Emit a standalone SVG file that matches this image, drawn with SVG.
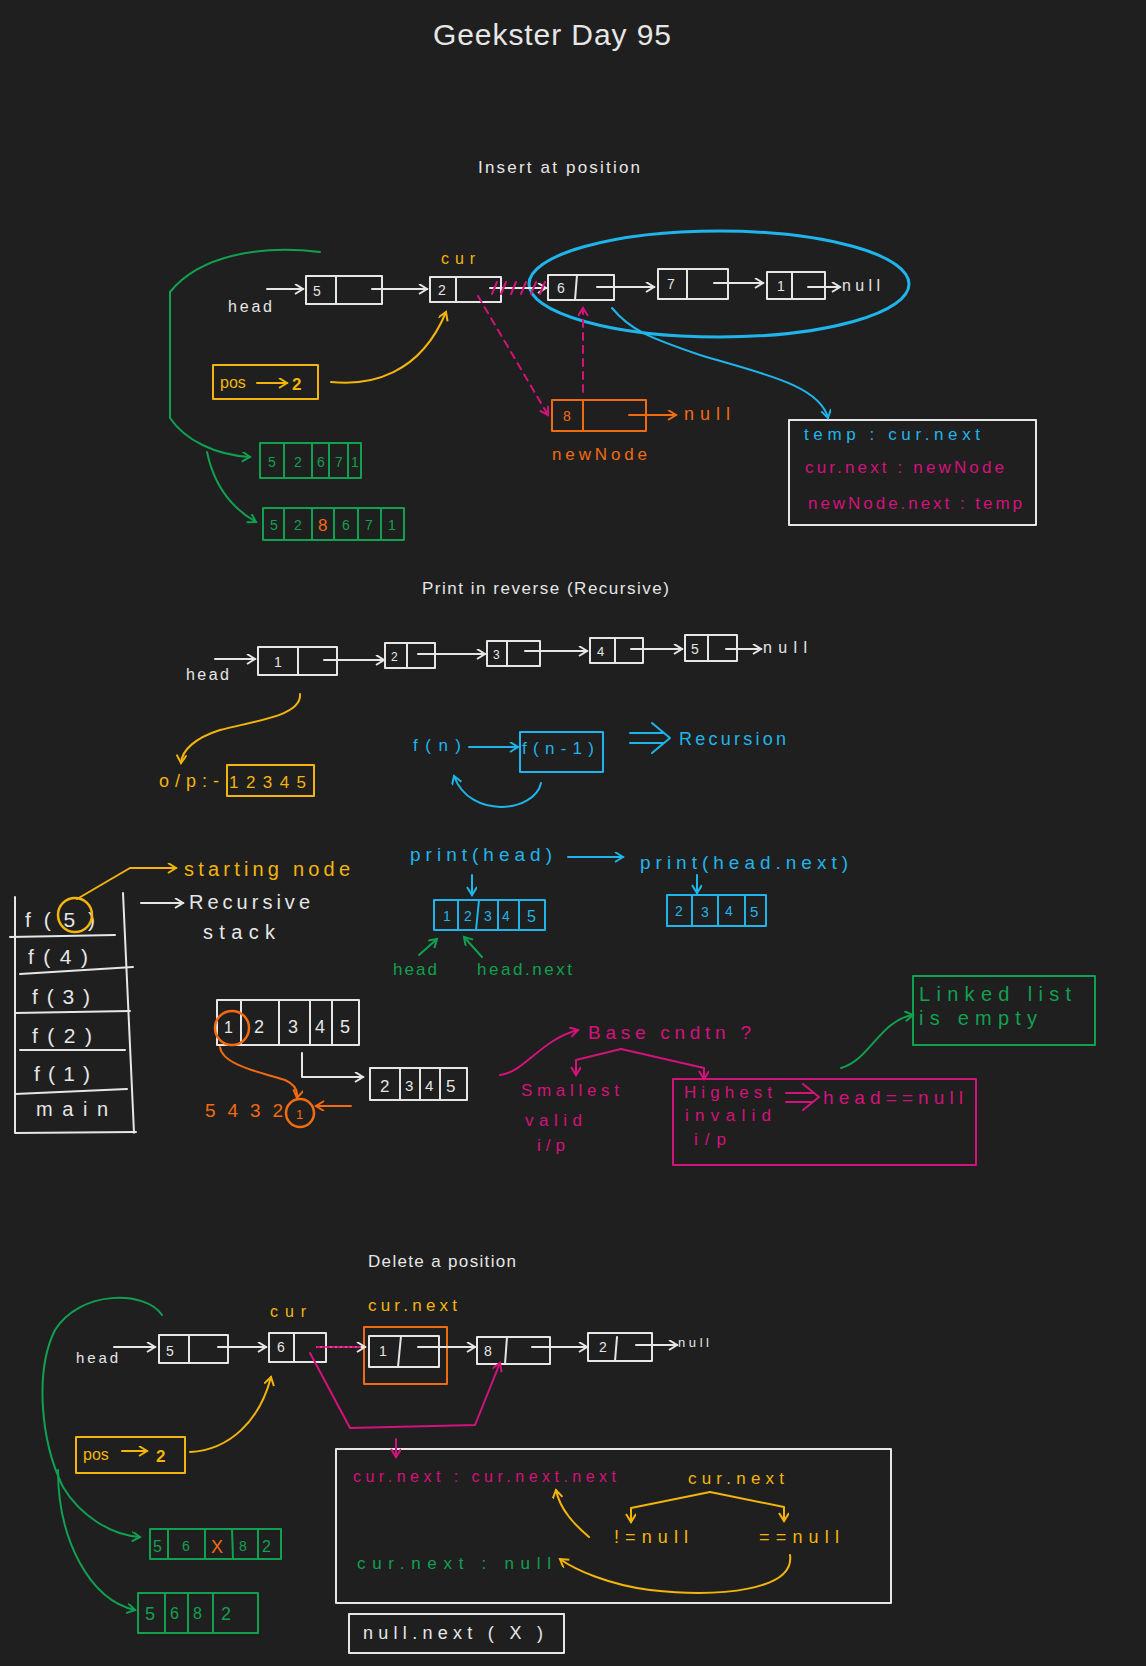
<svg xmlns="http://www.w3.org/2000/svg" width="1146" height="1666" viewBox="0 0 1146 1666">
<style>
text{font-family:"Liberation Sans","DejaVu Sans",sans-serif;}
.bx{fill:none;stroke-width:2;stroke-linecap:round;stroke-linejoin:round}
.ln{fill:none;stroke-width:2;stroke-linecap:round;stroke-linejoin:round}
.sw{stroke:#e6e6e6}.sy{stroke:#f4b50b}.sc{stroke:#1fb5ea}.sm{stroke:#d4127b}.so{stroke:#f26b10}.sg{stroke:#11a050}
.tw{fill:#e6e6e6}.ty{fill:#f4b50b}.tc{fill:#1fb5ea}.tm{fill:#d4127b}.to{fill:#f26b10}.tg{fill:#11a050}
.v{font-size:14px}
.lb{font-size:17px}
.hd{font-size:17px;fill:#e6e6e6}
.dash{stroke-dasharray:7 6}
</style>
<defs>
<marker id="aw" markerWidth="12" markerHeight="12" refX="9" refY="5" orient="auto" markerUnits="userSpaceOnUse"><path d="M1,0 L9,5 L1,10" fill="none" stroke="#e6e6e6" stroke-width="2"/></marker>
<marker id="ay" markerWidth="12" markerHeight="12" refX="9" refY="5" orient="auto" markerUnits="userSpaceOnUse"><path d="M1,0 L9,5 L1,10" fill="none" stroke="#f4b50b" stroke-width="2"/></marker>
<marker id="ac" markerWidth="12" markerHeight="12" refX="9" refY="5" orient="auto" markerUnits="userSpaceOnUse"><path d="M1,0 L9,5 L1,10" fill="none" stroke="#1fb5ea" stroke-width="2"/></marker>
<marker id="am" markerWidth="12" markerHeight="12" refX="9" refY="5" orient="auto" markerUnits="userSpaceOnUse"><path d="M1,0 L9,5 L1,10" fill="none" stroke="#d4127b" stroke-width="2"/></marker>
<marker id="ao" markerWidth="12" markerHeight="12" refX="9" refY="5" orient="auto" markerUnits="userSpaceOnUse"><path d="M1,0 L9,5 L1,10" fill="none" stroke="#f26b10" stroke-width="2"/></marker>
<marker id="ag" markerWidth="12" markerHeight="12" refX="9" refY="5" orient="auto" markerUnits="userSpaceOnUse"><path d="M1,0 L9,5 L1,10" fill="none" stroke="#11a050" stroke-width="2"/></marker>
</defs>
<rect x="0" y="0" width="1146" height="1666" fill="#1f1f1f"/>

<!-- titles -->
<text x="433" y="45" font-size="30" class="tw" textLength="238">Geekster Day 95</text>
<text x="478" y="173" class="hd" textLength="162">Insert at position</text>
<text x="422" y="594" class="hd" textLength="247">Print in reverse (Recursive)</text>
<text x="368" y="1267" class="hd" textLength="148">Delete a position</text>

<!-- ===== Insert at position ===== -->
<g id="ins-head"><text x="228" y="312" font-size="16" class="tw" textLength="44">head</text></g>
<g id="ins-n5"><rect x="306" y="276" width="76" height="28" class="bx sw"/><line x1="336" y1="276" x2="336" y2="304" class="ln sw"/><text x="313" y="296" class="v tw">5</text></g>
<g id="ins-n2"><rect x="430" y="277" width="71" height="25" class="bx sw"/><line x1="456" y1="277" x2="456" y2="302" class="ln sw"/><text x="438" y="295" class="v tw">2</text><text x="441" y="264" font-size="16" class="ty" textLength="34">cur</text></g>
<g id="ins-n6"><rect x="548" y="275" width="66" height="25" class="bx sw"/><line x1="577" y1="275" x2="575" y2="300" class="ln sw"/><text x="557" y="293" class="v tw">6</text></g>
<g id="ins-n7"><rect x="658" y="269" width="70" height="30" class="bx sw"/><line x1="687" y1="269" x2="687" y2="299" class="ln sw"/><text x="667" y="289" class="v tw">7</text></g>
<g id="ins-n1"><rect x="767" y="272" width="58" height="27" class="bx sw"/><line x1="792" y1="272" x2="792" y2="299" class="ln sw"/><text x="777" y="291" class="v tw">1</text></g>
<g id="ins-null"><text x="842" y="291" font-size="16" class="tw" textLength="38">null</text></g>
<g id="ins-ellipse"><ellipse cx="719" cy="284" rx="190" ry="53" fill="none" stroke="#1fb5ea" stroke-width="3"/></g>
<g id="ins-pos"><rect x="213" y="365" width="105" height="34" class="bx sy" stroke-width="2.5"/><text x="220" y="388" font-size="16" class="ty">pos</text><path d="M257,383 L287,383" class="ln sy" marker-end="url(#ay)"/><text x="292" y="390" font-size="17" font-weight="bold" class="ty">2</text></g>
<g id="ins-newnode"><rect x="552" y="400" width="94" height="31" class="bx so" stroke-width="2.5"/><line x1="583" y1="400" x2="583" y2="431" class="ln so" stroke-width="2.5"/><text x="563" y="421" class="v to">8</text><text x="684" y="420" font-size="18" class="to" textLength="46">null</text><text x="552" y="460" class="lb to" textLength="95">newNode</text></g>
<g id="ins-code"><rect x="789" y="420" width="247" height="105" class="bx sw" stroke-width="2.5"/>
<text x="804" y="440" class="lb tc" textLength="176">temp : cur.next</text>
<text x="805" y="473" class="lb tm" textLength="199">cur.next : newNode</text>
<text x="808" y="509" class="lb tm" textLength="214">newNode.next : temp</text></g>
<g id="ins-arr1"><rect x="260" y="443" width="101" height="35" class="bx sg" stroke-width="2.5"/>
<path d="M284,443 V478 M312,443 V478 M329,443 V478 M348,443 V478" class="ln sg"/>
<text x="268" y="467" class="v tg">5</text><text x="294" y="467" class="v tg">2</text><text x="317" y="467" class="v tg">6</text><text x="335" y="467" class="v tg">7</text><text x="351" y="467" class="v tg">1</text></g>
<g id="ins-arr2"><rect x="263" y="508" width="141" height="32" class="bx sg" stroke-width="2.5"/>
<path d="M284,508 V540 M312,508 V540 M334,508 V540 M358,508 V540 M381,508 V540" class="ln sg"/>
<text x="270" y="530" class="v tg">5</text><text x="294" y="530" class="v tg">2</text><text x="318" y="531" font-size="17" class="to">8</text><text x="342" y="530" class="v tg">6</text><text x="365" y="530" class="v tg">7</text><text x="388" y="530" class="v tg">1</text></g>

<g id="ins-connectors">
<path d="M267,289 L303,289" class="ln sw" marker-end="url(#aw)"/>
<path d="M372,289 L427,289" class="ln sw" marker-end="url(#aw)"/>
<path d="M490,288 L546,288" class="ln sw" marker-end="url(#aw)"/>
<path d="M492,294 L497,282 M501,294 L506,282 M511,294 L516,282 M521,294 L526,282 M531,294 L536,282 M540,294 L545,282" class="ln sm"/>
<path d="M597,287 L654,287" class="ln sw" marker-end="url(#aw)"/>
<path d="M714,283 L763,283" class="ln sw" marker-end="url(#aw)"/>
<path d="M808,287 L840,287" class="ln sw" marker-end="url(#aw)"/>
<path d="M629,415 L676,415" class="ln so" marker-end="url(#ao)"/>
<path d="M331,382 C370,386 420,375 446,312" class="ln sy" stroke-width="2.5" marker-end="url(#ay)"/>
<path d="M478,296 L548,415" class="ln sm dash" marker-end="url(#am)"/>
<path d="M583,392 L583,308" class="ln sm dash" marker-end="url(#am)"/>
<path d="M612,308 C630,330 650,338 700,355 C760,373 820,385 828,418" class="ln sc" marker-end="url(#ac)"/>
<path d="M320,252 C260,245 200,255 170,292 L170,418 C185,440 215,455 250,457" class="ln sg" marker-end="url(#ag)"/>
<path d="M207,452 C215,490 235,510 256,522" class="ln sg" marker-end="url(#ag)"/>
</g>

<!-- ===== Print in reverse ===== -->
<g id="pr-head"><text x="186" y="680" font-size="16" class="tw" textLength="43">head</text></g>
<g id="pr-n1"><rect x="258" y="647" width="79" height="28" class="bx sw"/><line x1="298" y1="647" x2="298" y2="675" class="ln sw"/><text x="274" y="667" class="v tw">1</text></g>
<g id="pr-n2"><rect x="385" y="643" width="50" height="25" class="bx sw"/><line x1="407" y1="643" x2="407" y2="668" class="ln sw"/><text x="391" y="661" font-size="12" class="tw">2</text></g>
<g id="pr-n3"><rect x="487" y="641" width="53" height="25" class="bx sw"/><line x1="507" y1="641" x2="507" y2="666" class="ln sw"/><text x="493" y="659" font-size="12" class="tw">3</text></g>
<g id="pr-n4"><rect x="590" y="638" width="53" height="25" class="bx sw"/><line x1="615" y1="638" x2="615" y2="663" class="ln sw"/><text x="597" y="656" font-size="13" class="tw">4</text></g>
<g id="pr-n5"><rect x="685" y="635" width="52" height="26" class="bx sw"/><line x1="708" y1="635" x2="708" y2="661" class="ln sw"/><text x="691" y="654" class="v tw">5</text></g>
<g id="pr-null"><text x="763" y="653" font-size="16" class="tw" textLength="44">null</text></g>
<g id="pr-op"><text x="159" y="787" font-size="18" class="ty" textLength="60">o/p:-</text><rect x="227" y="765" width="87" height="31" class="bx sy" stroke-width="2.5"/><text x="229" y="788" font-size="17" class="ty" textLength="77">12345</text></g>
<g id="pr-fn"><text x="413" y="751" class="lb tc" textLength="48">f(n)</text></g>
<g id="pr-fn1"><rect x="520" y="732" width="83" height="40" class="bx sc" stroke-width="2.5"/><text x="522" y="754" class="lb tc" textLength="72">f(n-1)</text></g>
<g id="pr-recursion"><path d="M630,733 L663,733 M630,743 L663,743 M652,723 L670,738 L652,753" class="ln sc"/><text x="679" y="745" font-size="18" class="tc" textLength="107">Recursion</text></g>

<g id="stack">
<path d="M15,897 L15,1133 L136,1132 M123,893 L134,1133" class="ln sw" stroke-width="2.5"/>
<path d="M10,937 L115,935 M20,974 L133,967 M15,1013 L130,1011 M20,1050 L125,1050 M15,1094 L127,1089" class="ln sw" stroke-width="2.5"/>
<text x="25" y="927" font-size="21" class="tw" textLength="70">f(5)</text>
<text x="28" y="964" font-size="21" class="tw" textLength="60">f(4)</text>
<text x="32" y="1004" font-size="21" class="tw" textLength="58">f(3)</text>
<text x="32" y="1043" font-size="21" class="tw" textLength="60">f(2)</text>
<text x="34" y="1081" font-size="21" class="tw" textLength="56">f(1)</text>
<text x="36" y="1116" font-size="20" class="tw" textLength="72">main</text>
<circle cx="75" cy="915" r="17" fill="none" stroke="#f4b50b" stroke-width="2.5"/>
</g>
<g id="starting-node"><text x="184" y="876" font-size="20" class="ty" textLength="166">starting node</text></g>
<g id="recursive-stack"><text x="189" y="909" font-size="20" class="tw" textLength="121">Recursive</text><text x="203" y="939" font-size="20" class="tw" textLength="72">stack</text></g>

<g id="print-head"><text x="410" y="861" font-size="19" class="tc" textLength="142">print(head)</text></g>
<g id="print-head-next"><text x="640" y="869" font-size="19" class="tc" textLength="208">print(head.next)</text></g>
<g id="pr-box1"><rect x="434" y="900" width="111" height="30" class="bx sc" stroke-width="2.5"/>
<path d="M458,900 V930 M479,900 L476,930 M498,900 V930 M519,900 V930" class="ln sc"/>
<text x="443" y="921" class="v tc">1</text><text x="464" y="921" class="v tc">2</text><text x="484" y="921" class="v tc">3</text><text x="502" y="921" class="v tc">4</text><text x="527" y="922" font-size="16" class="tc">5</text></g>
<g id="pr-box2"><rect x="667" y="895" width="99" height="31" class="bx sc" stroke-width="2.5"/>
<path d="M692,895 V926 M718,895 V926 M745,895 V926" class="ln sc"/>
<text x="675" y="916" class="v tc">2</text><text x="701" y="917" class="v tc">3</text><text x="725" y="916" class="v tc">4</text><text x="750" y="917" font-size="15" class="tc">5</text></g>
<g id="pr-headlbl"><text x="393" y="975" font-size="17" class="tg" textLength="44">head</text><text x="477" y="975" font-size="17" class="tg" textLength="95">head.next</text></g>

<g id="pr-box12345"><rect x="217" y="1000" width="142" height="45" class="bx sw" stroke-width="2.5"/>
<path d="M241,1000 V1045 M279,1000 V1045 M310,1000 V1045 M332,1000 V1045" class="ln sw"/>
<text x="224" y="1033" font-size="16" class="tw">1</text><text x="254" y="1033" font-size="18" class="tw">2</text><text x="288" y="1033" font-size="18" class="tw">3</text><text x="315" y="1033" font-size="18" class="tw">4</text><text x="340" y="1033" font-size="18" class="tw">5</text>
<circle cx="232" cy="1028" r="17" fill="none" stroke="#f26b10" stroke-width="2.5"/></g>
<g id="pr-box2345"><rect x="370" y="1068" width="97" height="32" class="bx sw" stroke-width="2.5"/>
<path d="M400,1068 V1100 M420,1068 V1100 M440,1068 V1100" class="ln sw"/>
<text x="380" y="1092" font-size="17" class="tw">2</text><text x="405" y="1091" font-size="15" class="tw">3</text><text x="425" y="1091" font-size="15" class="tw">4</text><text x="446" y="1092" font-size="17" class="tw">5</text></g>
<g id="pr-out"><text x="205" y="1117" font-size="19" class="to" textLength="78">5 4 3 2</text><circle cx="300" cy="1113" r="14" fill="none" stroke="#f26b10" stroke-width="2.5"/><text x="296" y="1119" font-size="13" class="to">1</text></g>

<g id="base-cond"><text x="588" y="1039" font-size="19" class="tm" textLength="163">Base cndtn ?</text></g>
<g id="smallest"><text x="521" y="1096" class="lb tm" textLength="98">Smallest</text><text x="525" y="1126" class="lb tm" textLength="57">valid</text><text x="537" y="1151" class="lb tm" textLength="28">i/p</text></g>
<g id="highest"><rect x="673" y="1079" width="303" height="86" class="bx sm" stroke-width="2.5"/>
<text x="684" y="1098" class="lb tm" textLength="88">Highest</text><text x="685" y="1121" class="lb tm" textLength="86">invalid</text><text x="694" y="1145" class="lb tm" textLength="32">i/p</text>
<path d="M786,1093 L813,1093 M786,1102 L813,1102 M803,1084 L819,1097 L803,1110" class="ln sm"/>
<text x="823" y="1104" font-size="19" class="tm" textLength="140">head==null</text></g>
<g id="empty"><rect x="913" y="976" width="182" height="69" class="bx sg" stroke-width="2.5"/><text x="919" y="1001" font-size="20" class="tg" textLength="152">Linked list</text><text x="919" y="1025" font-size="20" class="tg" textLength="118">is empty</text></g>

<g id="pr-connectors">
<path d="M215,659 L255,659" class="ln sw" marker-end="url(#aw)"/>
<path d="M324,660 L384,660" class="ln sw" marker-end="url(#aw)"/>
<path d="M418,654 L485,654" class="ln sw" marker-end="url(#aw)"/>
<path d="M525,651 L587,651" class="ln sw" marker-end="url(#aw)"/>
<path d="M631,649 L682,649" class="ln sw" marker-end="url(#aw)"/>
<path d="M726,649 L761,649" class="ln sw" marker-end="url(#aw)"/>
<path d="M300,694 C302,715 260,720 220,730 C195,738 182,750 181,763" class="ln sy" marker-end="url(#ay)"/>
<path d="M469,747 L518,747" class="ln sc" marker-end="url(#ac)"/>
<path d="M541,783 C535,812 470,820 454,776" class="ln sc" stroke-width="2.5" marker-end="url(#ac)"/>
<path d="M77,899 L130,868 L176,868" class="ln sy" stroke-width="2.5" marker-end="url(#ay)"/>
<path d="M141,903 L183,903" class="ln sw" marker-end="url(#aw)"/>
<path d="M568,857 L623,857" class="ln sc" marker-end="url(#ac)"/>
<path d="M472,875 L472,895" class="ln sc" marker-end="url(#ac)"/>
<path d="M697,875 L697,893" class="ln sc" marker-end="url(#ac)"/>
<path d="M419,955 L437,939" class="ln sg" marker-end="url(#ag)"/>
<path d="M482,957 L464,937" class="ln sg" marker-end="url(#ag)"/>
<path d="M302,1053 L302,1077 L363,1077" class="ln sw" marker-end="url(#aw)"/>
<path d="M220,1047 C222,1065 260,1072 285,1080 C296,1085 298,1092 297,1098" class="ln so" marker-end="url(#ao)"/>
<path d="M351,1106 L316,1106" class="ln so" marker-end="url(#ao)"/>
<path d="M500,1075 C525,1072 540,1040 578,1030" class="ln sm" marker-end="url(#am)"/>
<path d="M621,1049 L576,1060 L576,1075" class="ln sm" stroke-width="2.5" marker-end="url(#am)"/>
<path d="M621,1049 L704,1068 L704,1079" class="ln sm" stroke-width="2.5" marker-end="url(#am)"/>
<path d="M841,1068 C870,1060 880,1020 913,1015" class="ln sg" marker-end="url(#ag)"/>
</g>

<!-- ===== Delete a position ===== -->
<g id="del-head"><text x="76" y="1363" font-size="15" class="tw" textLength="42">head</text></g>
<g id="del-n5"><rect x="159" y="1335" width="69" height="28" class="bx sw"/><line x1="189" y1="1335" x2="189" y2="1363" class="ln sw"/><text x="166" y="1356" class="v tw">5</text></g>
<g id="del-n6"><rect x="269" y="1333" width="57" height="29" class="bx sw"/><line x1="294" y1="1333" x2="294" y2="1362" class="ln sw"/><text x="277" y="1352" class="v tw">6</text><text x="270" y="1317" font-size="16" class="ty" textLength="36">cur</text></g>
<g id="del-n1"><rect x="364" y="1327" width="83" height="57" class="bx so" stroke-width="2.5"/><rect x="369" y="1336" width="70" height="31" class="bx sw"/><line x1="401" y1="1336" x2="398" y2="1367" class="ln sw"/><text x="379" y="1356" class="v tw">1</text><text x="368" y="1311" class="lb ty" textLength="89">cur.next</text></g>
<g id="del-n8"><rect x="477" y="1337" width="73" height="27" class="bx sw"/><line x1="507" y1="1337" x2="505" y2="1364" class="ln sw"/><text x="484" y="1356" class="v tw">8</text></g>
<g id="del-n2"><rect x="588" y="1333" width="64" height="28" class="bx sw"/><line x1="617" y1="1337" x2="615" y2="1361" class="ln sw"/><text x="599" y="1352" class="v tw">2</text></g>
<g id="del-null"><text x="678" y="1347" font-size="13" class="tw" textLength="31">null</text></g>
<g id="del-pos"><rect x="76" y="1437" width="109" height="36" class="bx sy" stroke-width="2.5"/><text x="83" y="1460" font-size="16" class="ty">pos</text><path d="M122,1451 L147,1451" class="ln sy" marker-end="url(#ay)"/><text x="156" y="1462" font-size="17" font-weight="bold" class="ty">2</text></g>
<g id="del-arr1"><rect x="150" y="1529" width="131" height="30" class="bx sg" stroke-width="2.5"/>
<path d="M168,1529 V1559 M205,1529 V1559 M232,1529 L233,1559 M258,1529 V1559" class="ln sg"/>
<text x="153" y="1552" font-size="16" class="tg">5</text><text x="182" y="1551" class="v tg">6</text><text x="211" y="1553" font-size="18" class="to">X</text><text x="239" y="1551" class="v tg">8</text><text x="262" y="1552" font-size="16" class="tg">2</text></g>
<g id="del-arr2"><rect x="138" y="1593" width="120" height="40" class="bx sg" stroke-width="2.5"/>
<path d="M165,1593 V1633 M188,1593 V1633 M213,1593 V1633" class="ln sg"/>
<text x="145" y="1620" font-size="18" class="tg">5</text><text x="170" y="1619" font-size="16" class="tg">6</text><text x="193" y="1619" font-size="16" class="tg">8</text><text x="221" y="1620" font-size="18" class="tg">2</text></g>
<g id="del-code"><rect x="336" y="1449" width="555" height="154" class="bx sw" stroke-width="2.5"/>
<text x="353" y="1482" font-size="16" class="tm" textLength="263">cur.next : cur.next.next</text>
<text x="688" y="1484" class="lb ty" textLength="96">cur.next</text>
<text x="614" y="1543" font-size="18" class="ty" textLength="74">!=null</text>
<text x="759" y="1543" font-size="18" class="ty" textLength="80">==null</text>
<text x="357" y="1569" class="lb tg" textLength="194">cur.next : null</text></g>
<g id="del-nullnext"><rect x="349" y="1614" width="215" height="39" class="bx sw" stroke-width="2.5"/><text x="363" y="1639" font-size="18" class="tw" textLength="180">null.next ( X )</text></g>

<g id="del-connectors">
<path d="M114,1347 L155,1347" class="ln sw" marker-end="url(#aw)"/>
<path d="M218,1347 L266,1347" class="ln sw" marker-end="url(#aw)"/>
<path d="M317,1347 L365,1347" class="ln sw" marker-end="url(#aw)"/>
<path d="M317,1347 L360,1347" class="ln sm" stroke-dasharray="3 2"/>
<path d="M418,1347 L475,1347" class="ln sw" marker-end="url(#aw)"/>
<path d="M532,1347 L587,1347" class="ln sw" marker-end="url(#aw)"/>
<path d="M636,1345 L677,1345" class="ln sw" stroke-width="1.5" marker-end="url(#aw)"/>
<path d="M310,1353 L350,1428 L475,1425 L500,1363" class="ln sm" stroke-width="2.5" marker-end="url(#am)"/>
<path d="M190,1452 C230,1450 260,1420 271,1377" class="ln sy" stroke-width="2.5" marker-end="url(#ay)"/>
<path d="M162,1315 C145,1290 80,1290 55,1330 C35,1370 40,1440 63,1487 C80,1515 110,1535 140,1537" class="ln sg" marker-end="url(#ag)"/>
<path d="M58,1470 C58,1540 90,1600 135,1610" class="ln sg" marker-end="url(#ag)"/>
<path d="M396,1439 L396,1457" class="ln sm" marker-end="url(#am)"/>
<path d="M710,1492 L631,1508 L631,1522" class="ln sy" stroke-width="2.5" marker-end="url(#ay)"/>
<path d="M710,1492 L784,1507 L784,1521" class="ln sy" stroke-width="2.5" marker-end="url(#ay)"/>
<path d="M589,1537 C575,1525 560,1510 556,1490" class="ln sy" marker-end="url(#ay)"/>
<path d="M790,1555 C795,1590 720,1598 650,1590 C610,1585 575,1570 560,1559" class="ln sy" marker-end="url(#ay)"/>
</g>
</svg>
